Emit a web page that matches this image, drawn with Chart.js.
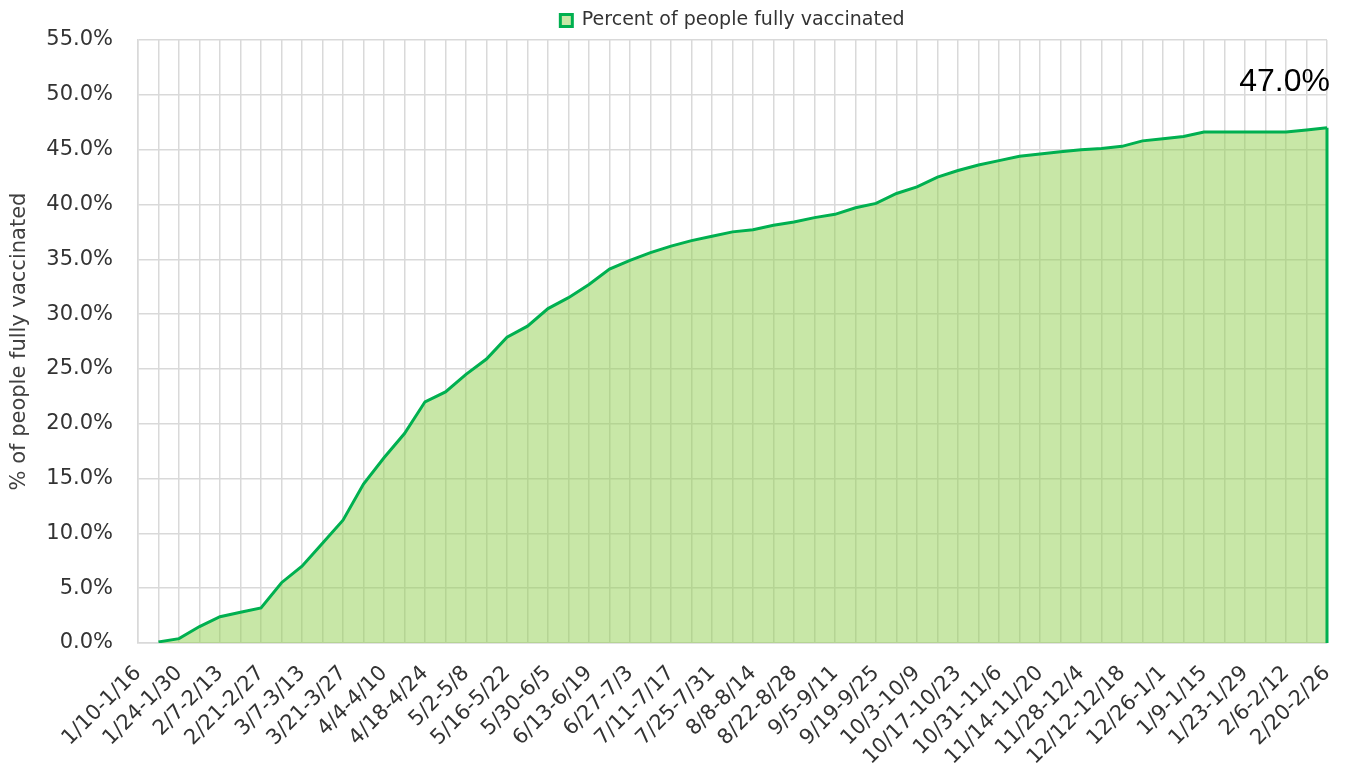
<!DOCTYPE html>
<html>
<head>
<meta charset="utf-8">
<script src="https://cdn.jsdelivr.net/npm/chart.js@4.4.1/dist/chart.umd.min.js"></script>
<style>
  html, body { margin: 0; padding: 0; background: #ffffff; }
  #wrap { width: 1345px; height: 774px; position: relative; }
</style>
</head>
<body>
<div id="wrap"><canvas id="c"></canvas></div>
<script>
const weeks = [
  '1/10-1/16','1/17-1/23','1/24-1/30','1/31-2/6','2/7-2/13','2/14-2/20','2/21-2/27','2/28-3/6',
  '3/7-3/13','3/14-3/20','3/21-3/27','3/28-4/3','4/4-4/10','4/11-4/17','4/18-4/24','4/25-5/1',
  '5/2-5/8','5/9-5/15','5/16-5/22','5/23-5/29','5/30-6/5','6/6-6/12','6/13-6/19','6/20-6/26',
  '6/27-7/3','7/4-7/10','7/11-7/17','7/18-7/24','7/25-7/31','8/1-8/7','8/8-8/14','8/15-8/21',
  '8/22-8/28','8/29-9/4','9/5-9/11','9/12-9/18','9/19-9/25','9/26-10/2','10/3-10/9','10/10-10/16',
  '10/17-10/23','10/24-10/30','10/31-11/6','11/7-11/13','11/14-11/20','11/21-11/27','11/28-12/4','12/5-12/11',
  '12/12-12/18','12/19-12/25','12/26-1/1','1/2-1/8','1/9-1/15','1/16-1/22','1/23-1/29','1/30-2/5',
  '2/6-2/12','2/13-2/19','2/20-2/26'
];
const fullyVaccinated = [
  null, 0.1, 0.4, 1.5, 2.4, 2.8, 3.2, 5.5,
  7.0, 9.1, 11.2, 14.5, 16.9, 19.1, 22.0, 22.9,
  24.5, 25.9, 27.9, 28.9, 30.5, 31.5, 32.7, 34.1,
  34.9, 35.6, 36.2, 36.7, 37.1, 37.5, 37.7, 38.1,
  38.4, 38.8, 39.1, 39.7, 40.1, 41.0, 41.6, 42.5,
  43.1, 43.6, 44.0, 44.4, 44.6, 44.8, 45.0, 45.1,
  45.3, 45.8, 46.0, 46.2, 46.6, 46.6, 46.6, 46.6,
  46.6, 46.8, 47.0
];
const yTicks = [0, 5, 10, 15, 20, 25, 30, 35, 40, 45, 50, 55];
const seriesName = 'Percent of people fully vaccinated';
const yTitle = '% of people fully vaccinated';

const LINE = '#00B050';
const FILL = 'rgba(146,208,80,0.5)';
const GRID = '#D9D9D9';
const TXT = '#333333';
const FONT = "'DejaVu Sans', sans-serif";

const endPlugin = {
  id: 'endDecor',
  afterDatasetsDraw(chart) {
    const meta = chart.getDatasetMeta(0);
    const last = meta.data[meta.data.length - 1];
    const ys = chart.scales.y;
    const ctx = chart.ctx;
    ctx.save();
    ctx.strokeStyle = LINE;
    ctx.lineWidth = 3;
    ctx.beginPath();
    ctx.moveTo(last.x, last.y);
    ctx.lineTo(last.x, ys.getPixelForValue(0));
    ctx.stroke();
    const v = fullyVaccinated[fullyVaccinated.length - 1];
    ctx.fillStyle = '#000000';
    ctx.font = "32px 'Liberation Sans', sans-serif";
    ctx.textAlign = 'right';
    ctx.textBaseline = 'middle';
    ctx.fillText(v.toFixed(1) + '%', last.x + 3, last.y - 46);
    ctx.restore();
  }
};

new Chart(document.getElementById('c'), {
  type: 'line',
  data: {
    labels: weeks,
    datasets: [{
      label: seriesName,
      data: fullyVaccinated,
      borderColor: LINE,
      backgroundColor: FILL,
      borderWidth: 3,
      pointRadius: 0,
      fill: 'origin',
      tension: 0,
      spanGaps: false
    }]
  },
  options: {
    responsive: true,
    maintainAspectRatio: false,
    animation: false,
    events: [],
    layout: { padding: { top: 1, right: 18, bottom: 0, left: 0 } },
    plugins: {
      legend: {
        position: 'top',
        fullSize: false,
        labels: {
          color: TXT,
          font: { family: FONT, size: 19 },
          boxWidth: 12,
          boxHeight: 12,
          padding: 10
        }
      },
      tooltip: { enabled: false }
    },
    scales: {
      x: {
        offset: false,
        grid: { color: GRID, lineWidth: 1.5, drawTicks: false },
        border: { color: GRID, width: 1.5 },
        ticks: {
          autoSkip: false,
          minRotation: 45,
          maxRotation: 45,
          padding: 18,
          color: TXT,
          font: { family: FONT, size: 21 },
          callback: function(value, index) { return index % 2 === 0 ? weeks[index] : ''; }
        },
        afterFit: function(axis) {
          axis.height = 131;
          axis.paddingLeft = 0;
          axis.paddingRight = 0;
        }
      },
      y: {
        min: 0,
        max: 55,
        afterBuildTicks: function(axis) { axis.ticks = yTicks.map(v => ({ value: v })); },
        grid: { color: GRID, lineWidth: 1.5, drawTicks: false },
        border: { color: GRID, width: 1.5 },
        ticks: {
          padding: 25,
          color: TXT,
          font: { family: FONT, size: 21 },
          callback: function(v) { return Number(v).toFixed(1) + '%'; }
        },
        title: {
          display: true,
          text: yTitle,
          color: '#404040',
          font: { family: FONT, size: 21 },
          padding: { top: 7, bottom: 0 }
        },
        afterFit: function(axis) { axis.width = 138; }
      }
    }
  },
  plugins: [endPlugin]
});
</script>
</body>
</html>
